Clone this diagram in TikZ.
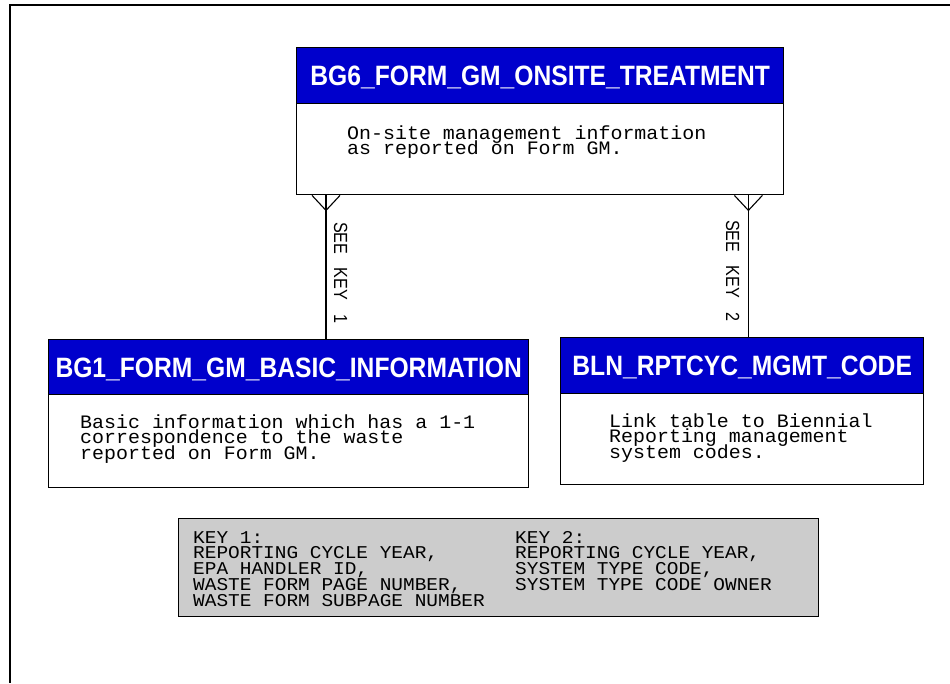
\documentclass[tikz,border=0pt]{standalone}
\usepackage{fontspec}
\newfontfamily\titlef[FakeStretch=0.88]{Liberation Sans}
\newfontfamily\bodyf[FakeStretch=1.05]{Liberation Mono}
\newfontfamily\keyf[FakeStretch=1.08]{Liberation Mono}
\newfontfamily\lblf[FakeStretch=0.85]{Liberation Sans}
\newcommand\mytightlines{\lineskiplimit=-60pt\relax\lineskip=0pt\relax}
\definecolor{hdrblue}{RGB}{0,0,204}
\definecolor{keygray}{RGB}{204,204,204}
\tikzset{
  hdr/.style={draw=black, fill=hdrblue, line width=1.4pt, anchor=north west, inner sep=0pt,
    text=white, font=\titlef\bfseries\fontsize{28}{28}\selectfont, text height=20pt, text depth=0pt},
  bodybox/.style={draw=black, fill=white, line width=1.4pt, anchor=north west, inner sep=0pt},
  bodytxt/.style={anchor=base west, inner sep=0pt, align=left,
    font=\bodyf\fontsize{19}{15.7}\selectfont\mytightlines},
  keytxt/.style={anchor=base west, inner sep=0pt, align=left,
    font=\keyf\fontsize{18}{15.75}\selectfont\mytightlines},
  keybox/.style={draw=black, fill=keygray, line width=1.4pt, anchor=north west, inner sep=0pt},
  lbl/.style={rotate=-90, anchor=base west, inner sep=0pt, font=\lblf\fontsize{19}{19}\selectfont},
  conn/.style={draw=black, line width=1.1pt}
}
\begin{document}
\begin{tikzpicture}[x=1pt,y=-1pt]
\useasboundingbox (0,0) rectangle (950,683);
\draw[line width=2pt] (950,5) -- (10,5) -- (10,683);

% top entity
\node[hdr, minimum width=487pt, minimum height=56pt] (t6h) at (296,47) {BG6\_FORM\_GM\_ONSITE\_TREATMENT};
\node[bodybox, minimum width=487pt, minimum height=91pt] (t6b) at (296,103) {};
\node[bodytxt] (t6t) at (347,154.7) {On-site management information\\as reported on Form GM.};

% left entity
\node[hdr, minimum width=480pt, minimum height=55pt] (b1h) at (48,339) {BG1\_FORM\_GM\_BASIC\_INFORMATION};
\node[bodybox, minimum width=480pt, minimum height=93pt] (b1b) at (48,394) {};
\node[bodytxt] (b1t) at (80,459.4) {Basic information which has a 1-1\\correspondence to the waste\\reported on Form GM.};

% right entity
\node[hdr, minimum width=363pt, minimum height=56pt] (blh) at (560,337) {BLN\_RPTCYC\_MGMT\_CODE};
\node[bodybox, minimum width=363pt, minimum height=91pt] (blb) at (560,393) {};
\node[bodytxt] (blt) at (609,458.4) {Link table to Biennial\\Reporting management\\system codes.};

% connectors
\path (t6b.south west) ++(30pt,0pt) coordinate (c1a);
\path (t6b.south east) ++(-36pt,0pt) coordinate (c2a);
\draw[conn] (c1a) -- (c1a |- b1h.north);
\draw[conn] (c2a) -- (c2a |- blh.north);
\draw[conn] (c1a) ++(-14pt,0pt) -- ++(14pt,-15pt) -- ++(14pt,15pt);
\draw[conn] (c2a) ++(-14pt,0pt) -- ++(14pt,-15pt) -- ++(14pt,15pt);
\node[lbl] (l1) at (334,222) {SEE\hspace{13pt}KEY\hspace{15pt}1};
\node[lbl] (l2) at (726,220) {SEE\hspace{13pt}KEY\hspace{15pt}2};

% key box
\node[keybox, minimum width=640pt, minimum height=98pt] (keyb) at (178,518) {};
\node[keytxt] (k1) at (193,606) {KEY 1:\\REPORTING CYCLE YEAR,\\EPA HANDLER ID,\\WASTE FORM PAGE NUMBER,\\WASTE FORM SUBPAGE NUMBER};
\node[keytxt] (k2) at (515,590.25) {KEY 2:\\REPORTING CYCLE YEAR,\\SYSTEM TYPE CODE,\\SYSTEM TYPE CODE OWNER};
\end{tikzpicture}
\end{document}
